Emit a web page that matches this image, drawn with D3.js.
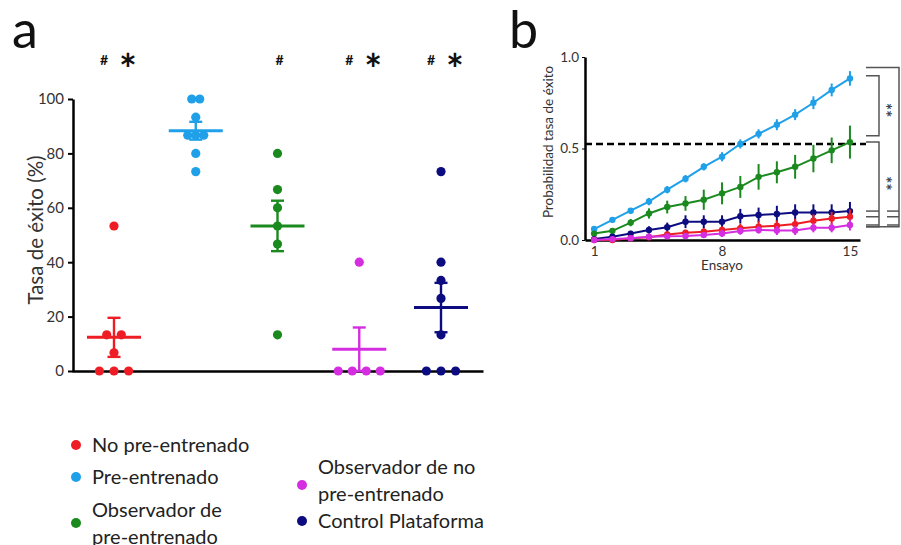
<!DOCTYPE html>
<html>
<head>
<meta charset="utf-8">
<script src="https://d3js.org/d3.v7.min.js"></script>
<style>
  body { margin: 0; background: #fff; }
  text { font-family: Lato, "Open Sans", sans-serif; }
</style>
</head>
<body>
<script>
// ---- data, panel a: individual success rates (%) per group
var groups = ["No pre-entrenado", "Pre-entrenado", "Observador de pre-entrenado",
              "Observador de no pre-entrenado", "Control Plataforma"];
var colors = ["#ee1c25", "#1fa0e8", "#1a8a1e", "#d42ee0", "#0c0c80"];
var noPre      = [53.3, 13.3, 13.3, 6.7, 0, 0, 0];
var pre        = [100, 100, 93.3, 86.7, 86.7, 86.7, 80, 73.3];
var obsPre     = [80, 66.7, 60, 53.3, 46.7, 13.3];
var obsNoPre   = [40, 0, 0, 0, 0];
var control    = [73.3, 40, 33.3, 26.7, 13.3, 0, 0, 0];
var groupValues = [noPre, pre, obsPre, obsNoPre, control];
var hashMarks = [true, false, true, true, true];
var starMarks = [true, false, false, true, true];
var yTicksA = [0, 20, 40, 60, 80, 100];

// ---- data, panel b: probability of success per trial (mean and error)
var trials = d3.range(1, 16);
var probPre      = [0.06, 0.11, 0.16, 0.21, 0.275, 0.335, 0.40, 0.455, 0.525, 0.58, 0.63, 0.685, 0.75, 0.82, 0.883];
var probObsPre   = [0.035, 0.05, 0.095, 0.145, 0.18, 0.20, 0.22, 0.255, 0.29, 0.345, 0.37, 0.40, 0.445, 0.49, 0.535];
var probControl  = [0.005, 0.018, 0.035, 0.055, 0.07, 0.10, 0.10, 0.10, 0.13, 0.137, 0.142, 0.15, 0.15, 0.15, 0.158];
var probNoPre    = [0, 0, 0.01, 0.015, 0.03, 0.04, 0.045, 0.055, 0.064, 0.073, 0.078, 0.087, 0.105, 0.118, 0.127];
var probObsNoPre = [0, 0.005, 0.01, 0.018, 0.02, 0.022, 0.027, 0.036, 0.049, 0.055, 0.052, 0.052, 0.067, 0.067, 0.082];
var errPre      = [0.012, 0.015, 0.015, 0.02, 0.02, 0.02, 0.02, 0.025, 0.025, 0.025, 0.03, 0.03, 0.035, 0.035, 0.04];
var errObsPre   = [0.01, 0.015, 0.02, 0.028, 0.035, 0.04, 0.055, 0.06, 0.06, 0.07, 0.06, 0.065, 0.075, 0.07, 0.09];
var errControl  = [0.005, 0.01, 0.015, 0.02, 0.025, 0.035, 0.035, 0.035, 0.04, 0.04, 0.045, 0.045, 0.045, 0.045, 0.05];
var errNoPre    = [0, 0.005, 0.008, 0.01, 0.015, 0.015, 0.02, 0.02, 0.025, 0.03, 0.03, 0.03, 0.035, 0.035, 0.04];
var errObsNoPre = [0, 0.005, 0.008, 0.01, 0.012, 0.015, 0.015, 0.02, 0.02, 0.02, 0.025, 0.025, 0.025, 0.025, 0.03];
var criterion = 0.525;
var yTicksB = [0, 0.5, 1];
var xTicksB = [1, 8, 15];

// legend lines
var legendLines = [["No pre-entrenado"], ["Pre-entrenado"], ["Observador de", "pre-entrenado"],
                   ["Observador de no", "pre-entrenado"], ["Control Plataforma"]];

var w = 901, h = 545;
var svg = d3.select("body").append("svg").attr("width", w).attr("height", h);

// ================= panel a =================
var xA = d3.scalePoint().domain(groups).range([114, 441]);
var yA = d3.scaleLinear().domain([0, 100]).range([371, 99]);

var yAxisA = svg.append("g")
    .attr("transform", "translate(73,0)")
    .call(d3.axisLeft(yA).tickValues(yTicksA).tickSize(5).tickSizeOuter(0).tickPadding(4));
yAxisA.select(".domain").attr("stroke", "#000").attr("stroke-width", 2.5);
yAxisA.selectAll(".tick line").attr("stroke", "#000").attr("stroke-width", 2);
yAxisA.selectAll(".tick text").attr("font-size", 15).attr("fill", "#333")
    .style("font-family", "Lato, sans-serif");

var xAxisA = svg.append("g")
    .attr("transform", "translate(0," + yA(0) + ")")
    .call(d3.axisBottom(d3.scaleLinear().range([72, 483])).ticks(0).tickSizeOuter(0));
xAxisA.select(".domain").attr("stroke", "#000").attr("stroke-width", 2.5);

svg.append("text")
    .attr("transform", "translate(43," + 230 + ") rotate(-90)")
    .attr("text-anchor", "middle")
    .attr("font-size", 20.5).attr("fill", "#333")
    .text("Tasa de éxito (%)");

var swarmGap = [14.6, 8, 14.6, 14, 14.6];
groups.forEach(function (g, gi) {
    var vals = groupValues[gi];
    var col = colors[gi];
    var cx = xA(g);
    // dots, same values spread sideways
    var counts = d3.rollup(vals, function (v) { return v.length; }, function (d) { return d; });
    var seen = new Map();
    var pts = vals.map(function (v) {
        var k = counts.get(v), i = seen.get(v) || 0;
        seen.set(v, i + 1);
        return { x: cx + (i - (k - 1) / 2) * swarmGap[gi], v: v };
    });
    svg.append("g").selectAll("circle").data(pts).enter().append("circle")
        .attr("cx", function (d) { return d.x; })
        .attr("cy", function (d) { return yA(d.v); })
        .attr("r", 4.6)
        .attr("fill", col);

    var m = d3.mean(vals);
    var sem = d3.deviation(vals) / Math.sqrt(vals.length);
    var eg = svg.append("g").attr("stroke", col).attr("fill", "none");
    eg.append("line").attr("x1", cx).attr("x2", cx)
        .attr("y1", yA(Math.max(0, m - sem))).attr("y2", yA(m + sem)).attr("stroke-width", 2.4);
    [m + sem, Math.max(0, m - sem)].forEach(function (v) {
        eg.append("line").attr("x1", cx - 6.5).attr("x2", cx + 6.5)
            .attr("y1", yA(v)).attr("y2", yA(v)).attr("stroke-width", 2.4);
    });
    eg.append("line").attr("x1", cx - 27).attr("x2", cx + 27)
        .attr("y1", yA(m)).attr("y2", yA(m)).attr("stroke-width", 3);

    // significance marks
    if (hashMarks[gi]) {
        svg.append("text")
            .attr("x", starMarks[gi] ? cx - 10 : cx + 2).attr("y", 65)
            .attr("text-anchor", "middle").attr("font-size", 14).attr("font-weight", "bold")
            .attr("fill", "#111").text("#");
    }
    if (starMarks[gi]) {
        svg.append("text")
            .attr("x", cx + 14).attr("y", 85)
            .attr("text-anchor", "middle").attr("font-size", 42).attr("font-weight", "bold")
            .attr("fill", "#111").text("*");
    }
});

svg.append("text").attr("x", 12).attr("y", 48).attr("font-size", 52).attr("fill", "#111").text("a");
svg.append("text").attr("x", 509).attr("y", 48).attr("font-size", 52).attr("fill", "#111").text("b");

// legend
var legendPos = [[76, 445], [76, 477], [76, 523], [302, 485], [302, 521]];
groups.forEach(function (g, gi) {
    var p = legendPos[gi];
    svg.append("circle").attr("cx", p[0]).attr("cy", p[1]).attr("r", 5).attr("fill", colors[gi]);
    var lines = legendLines[gi];
    var t = svg.append("text").attr("font-size", 20).attr("fill", "#222");
    var shift = gi === 3 ? -5 : 0;
    lines.forEach(function (s, li) {
        t.append("tspan").attr("x", p[0] + 16)
            .attr("y", p[1] + 7 + shift + (li - (lines.length - 1) / 2) * 27)
            .text(s);
    });
});

// ================= panel b =================
var xB = d3.scaleLinear().domain([0.5, 15.55]).range([585, 860]);
var yB = d3.scaleLinear().domain([0, 1]).range([240, 57]);

var yAxisB = svg.append("g")
    .attr("transform", "translate(585,0)")
    .call(d3.axisLeft(yB).tickValues(yTicksB).tickFormat(d3.format(".1f")).tickSize(3).tickSizeOuter(0).tickPadding(3));
yAxisB.select(".domain").attr("stroke", "#000").attr("stroke-width", 2.5);
yAxisB.selectAll(".tick line").attr("stroke", "#000");
yAxisB.selectAll(".tick text").attr("font-size", 13.5).attr("fill", "#333")
    .style("font-family", "Lato, sans-serif");

var xAxisB = svg.append("g")
    .attr("transform", "translate(0," + yB(0) + ")")
    .call(d3.axisBottom(xB).tickValues(xTicksB).tickSize(0).tickPadding(6));
xAxisB.select(".domain").attr("stroke", "#000").attr("stroke-width", 2.5);
xAxisB.selectAll(".tick text").attr("font-size", 13.5).attr("fill", "#333")
    .style("font-family", "Lato, sans-serif");

svg.append("text").attr("x", xB(8)).attr("y", 270).attr("text-anchor", "middle")
    .attr("font-size", 13.5).attr("fill", "#333").text("Ensayo");
svg.append("text")
    .attr("transform", "translate(553,142) rotate(-90)")
    .attr("text-anchor", "middle").attr("font-size", 13.5).attr("fill", "#333")
    .text("Probabilidad tasa de éxito");

svg.append("line")
    .attr("x1", 585).attr("x2", 866)
    .attr("y1", yB(criterion)).attr("y2", yB(criterion))
    .attr("stroke", "#000").attr("stroke-width", 2.5).attr("stroke-dasharray", "7,4");

var series = [
    { c: colors[1], v: probPre, e: errPre },
    { c: colors[2], v: probObsPre, e: errObsPre },
    { c: colors[4], v: probControl, e: errControl },
    { c: colors[0], v: probNoPre, e: errNoPre },
    { c: colors[3], v: probObsNoPre, e: errObsNoPre }
];
var lineB = d3.line()
    .x(function (d) { return xB(d[0]); })
    .y(function (d) { return yB(d[1]); });

series.forEach(function (s) {
    var pts = trials.map(function (t, i) { return [t, s.v[i], s.e[i]]; });
    var g = svg.append("g");
    g.append("path").attr("d", lineB(pts)).attr("fill", "none")
        .attr("stroke", s.c).attr("stroke-width", 2);
    g.selectAll(".eb").data(pts).enter().append("line")
        .attr("x1", function (d) { return xB(d[0]); })
        .attr("x2", function (d) { return xB(d[0]); })
        .attr("y1", function (d) { return yB(Math.max(0, d[1] - d[2])); })
        .attr("y2", function (d) { return yB(d[1] + d[2]); })
        .attr("stroke", s.c).attr("stroke-width", 2);
    g.selectAll("circle").data(pts).enter().append("circle")
        .attr("cx", function (d) { return xB(d[0]); })
        .attr("cy", function (d) { return yB(d[1]); })
        .attr("r", 3.2).attr("fill", s.c);
});

// significance brackets on the right, tied to the final values
var last = probPre.length - 1;
var br = svg.append("g").attr("stroke", "#555").attr("stroke-width", 1.5).attr("fill", "none");
function bracket(x0, x1, yTop, yBot) {
    br.append("path").attr("d", "M" + x0 + "," + yTop + "H" + x1 + "V" + yBot + "H" + x0);
}
bracket(866, 879, yB(probPre[last] + 0.015), yB(probObsPre[last] + 0.035));
bracket(866, 879, yB(probObsPre[last]), yB(probObsNoPre[last] - 0.01));
bracket(866, 899, yB(probPre[last] + 0.06), yB(probObsNoPre[last] - 0.01));
[probControl[last], probNoPre[last], probObsNoPre[last]].forEach(function (v) {
    br.append("line").attr("x1", 866).attr("x2", 879).attr("y1", yB(v)).attr("y2", yB(v));
    br.append("line").attr("x1", 887).attr("x2", 899).attr("y1", yB(v)).attr("y2", yB(v));
});
[[probPre[last], probObsPre[last]], [probObsPre[last], probObsNoPre[last]]].forEach(function (p) {
    var ym = (yB(p[0]) + yB(p[1])) / 2;
    svg.append("text")
        .attr("transform", "translate(879," + ym + ") rotate(90)")
        .attr("text-anchor", "middle").attr("font-size", 17).attr("font-weight", "bold")
        .attr("fill", "#444")
        .text("**");
});
</script>
</body>
</html>
